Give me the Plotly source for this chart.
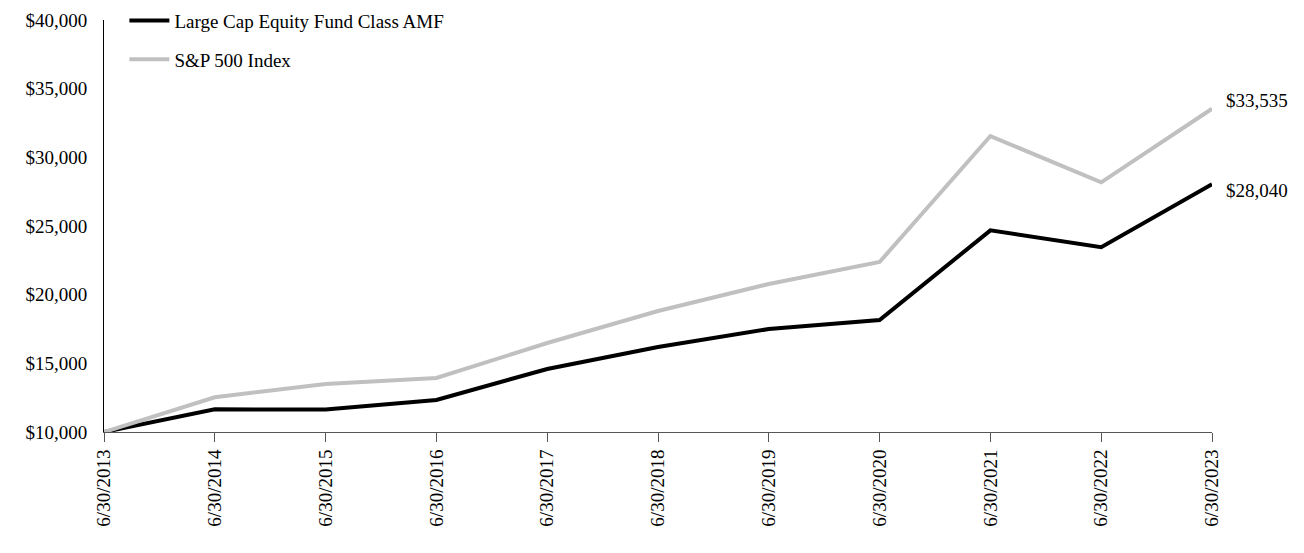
import plotly.graph_objects as go

dates = ["6/30/2013", "6/30/2014", "6/30/2015", "6/30/2016", "6/30/2017", "6/30/2018",
         "6/30/2019", "6/30/2020", "6/30/2021", "6/30/2022", "6/30/2023"]
fund = [10000, 11650, 11640, 12330, 14590, 16190, 17500, 18160, 24680, 23450, 28040]
sp500 = [10000, 12530, 13500, 13930, 16480, 18810, 20780, 22380, 31550, 28180, 33535]
fund_name = "Large Cap Equity Fund Class AMF"
sp_name = "S&P 500 Index"
yticks = [10000, 15000, 20000, 25000, 30000, 35000, 40000]
yticktext = ["$10,000", "$15,000", "$20,000", "$25,000", "$30,000", "$35,000", "$40,000"]

FONT = "Liberation Serif"
FS = 19

fig = go.Figure()
fig.add_trace(go.Scatter(x=dates, y=fund, mode="lines", name=fund_name,
                         line=dict(color="#000000", width=4), legendgroup="a"))
fig.add_trace(go.Scatter(x=dates, y=sp500, mode="lines", name=sp_name,
                         line=dict(color="#c0c0c0", width=4), legendgroup="b"))

fig.add_annotation(x=dates[-1], y=sp500[-1], text="$" + f"{sp500[-1]:,}", showarrow=False,
                   xanchor="left", xshift=12, yshift=8, font=dict(family=FONT, size=FS, color="#000"))
fig.add_annotation(x=dates[-1], y=fund[-1], text="$" + f"{fund[-1]:,}", showarrow=False,
                   xanchor="left", xshift=12, yshift=-6, font=dict(family=FONT, size=FS, color="#000"))

fig.update_layout(
    width=1304, height=553,
    margin=dict(l=104, r=92, t=20, b=121, autoexpand=False),
    paper_bgcolor="white", plot_bgcolor="white",
    font=dict(family=FONT, size=FS, color="#000"),
    showlegend=True,
    legend=dict(x=0.0184, y=0.997, xref="paper", yref="container", xanchor="left", yanchor="top",
                bgcolor="rgba(0,0,0,0)",
                font=dict(family=FONT, size=FS), tracegroupgap=11, itemwidth=40),
)
fig.update_xaxes(type="category", range=[0, len(dates) - 1], showgrid=False,
                 showline=True, linecolor="#555555", linewidth=1,
                 ticks="outside", ticklen=9, tickcolor="#555555", tickangle=-90,
                 tickfont=dict(family=FONT, size=FS))
fig.update_yaxes(range=[10000, 40000], tickvals=yticks, ticktext=yticktext,
                 showgrid=False, zeroline=False, showline=True, linecolor="#000", linewidth=1,
                 ticks="outside", ticklen=12, tickcolor="rgba(0,0,0,0)",
                 tickfont=dict(family=FONT, size=FS))

fig.write_html("out.html")
